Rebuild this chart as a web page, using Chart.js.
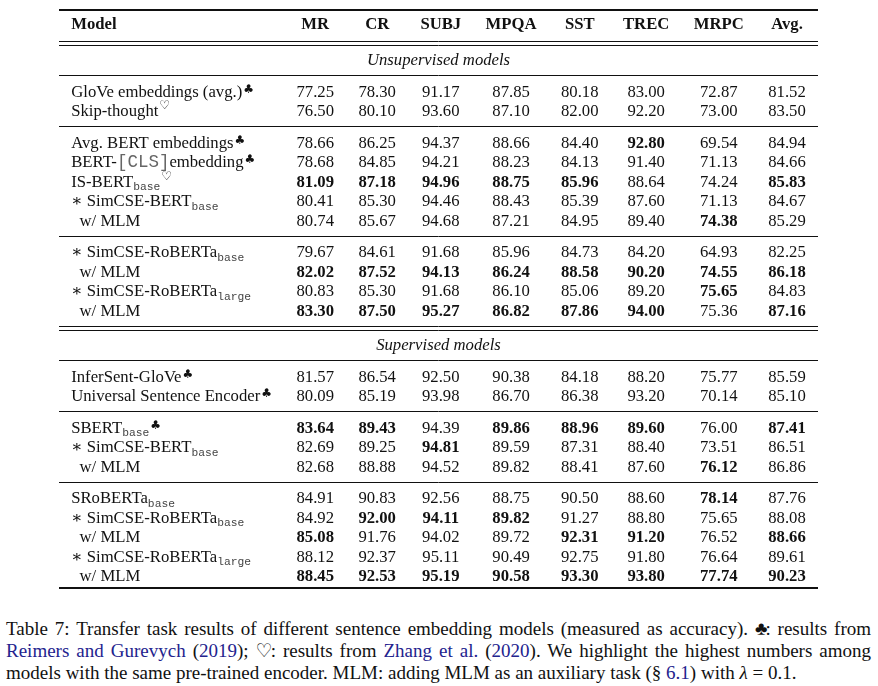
<!DOCTYPE html>
<html>
<head>
<meta charset="utf-8">
<script src="https://cdn.jsdelivr.net/npm/chart.js@4.4.1/dist/chart.umd.min.js"></script>
<style>
  body { margin: 0; background: #fff; width: 878px; height: 686px; overflow: hidden; position: relative; }
  #wrap { position: absolute; left: 0; top: 0; width: 878px; height: 600px; }
  #cap { position: absolute; left: 6px; top: 618px; width: 865px; color: #111;
         font: 19px "Liberation Serif", "Times New Roman", "DejaVu Serif", serif; line-height: 22px; }
  #cap div { white-space: nowrap; }
  #cap a { color: #23238e; text-decoration: none; }
  #cap .sym { font-size: 19px; margin-right: -2px; }
</style>
</head>
<body>
<div id="wrap"><canvas id="tbl" width="878" height="600"></canvas></div>
<div id="cap">
  <div class="j"><span>Table 7: Transfer task results of different sentence embedding models (measured as accuracy). <span class="sym">♣</span>: results from</span></div>
  <div class="j"><span><a>Reimers and Gurevych</a> (<a>2019</a>); <span class="sym">♡</span>: results from <a>Zhang et al.</a> (<a>2020</a>). We highlight the highest numbers among</span></div>
  <div><span>models with the same pre-trained encoder. MLM: adding MLM as an auxiliary task (§ <a>6.1</a>) with <i>λ</i> = 0.1.</span></div>
</div>
<script>
const columns = ['MR', 'CR', 'SUBJ', 'MPQA', 'SST', 'TREC', 'MRPC', 'Avg.'];
const sections = ['Unsupervised models', 'Supervised models'];
const groupsPerSection = [3, 3];
const groupSizes = [2, 5, 4, 2, 3, 5];

// `x` = typewriter, _x = subscript, ^x = superscript mark
const models = [
  'GloVe embeddings (avg.)^♣',
  'Skip-thought^♡',
  'Avg. BERT embeddings^♣',
  'BERT-`[CLS]`embedding^♣',
  'IS-BERT_base^♡',
  '∗ SimCSE-BERT_base',
  '  w/ MLM',
  '∗ SimCSE-RoBERTa_base',
  '  w/ MLM',
  '∗ SimCSE-RoBERTa_large',
  '  w/ MLM',
  'InferSent-GloVe^♣',
  'Universal Sentence Encoder^♣',
  'SBERT_base^♣',
  '∗ SimCSE-BERT_base',
  '  w/ MLM',
  'SRoBERTa_base',
  '∗ SimCSE-RoBERTa_base',
  '  w/ MLM',
  '∗ SimCSE-RoBERTa_large',
  '  w/ MLM'
];

const mr   = [77.25, 76.50, 78.66, 78.68, 81.09, 80.41, 80.74, 79.67, 82.02, 80.83, 83.30, 81.57, 80.09, 83.64, 82.69, 82.68, 84.91, 84.92, 85.08, 88.12, 88.45];
const cr   = [78.30, 80.10, 86.25, 84.85, 87.18, 85.30, 85.67, 84.61, 87.52, 85.30, 87.50, 86.54, 85.19, 89.43, 89.25, 88.88, 90.83, 92.00, 91.76, 92.37, 92.53];
const subj = [91.17, 93.60, 94.37, 94.21, 94.96, 94.46, 94.68, 91.68, 94.13, 91.68, 95.27, 92.50, 93.98, 94.39, 94.81, 94.52, 92.56, 94.11, 94.02, 95.11, 95.19];
const mpqa = [87.85, 87.10, 88.66, 88.23, 88.75, 88.43, 87.21, 85.96, 86.24, 86.10, 86.82, 90.38, 86.70, 89.86, 89.59, 89.82, 88.75, 89.82, 89.72, 90.49, 90.58];
const sst  = [80.18, 82.00, 84.40, 84.13, 85.96, 85.39, 84.95, 84.73, 88.58, 85.06, 87.86, 84.18, 86.38, 88.96, 87.31, 88.41, 90.50, 91.27, 92.31, 92.75, 93.30];
const trec = [83.00, 92.20, 92.80, 91.40, 88.64, 87.60, 89.40, 84.20, 90.20, 89.20, 94.00, 88.20, 93.20, 89.60, 88.40, 87.60, 88.60, 88.80, 91.20, 91.80, 93.80];
const mrpc = [72.87, 73.00, 69.54, 71.13, 74.24, 71.13, 74.38, 64.93, 74.55, 75.65, 75.36, 75.77, 70.14, 76.00, 73.51, 76.12, 78.14, 75.65, 76.52, 76.64, 77.74];
const avg  = [81.52, 83.50, 84.94, 84.66, 85.83, 84.67, 85.29, 82.25, 86.18, 84.83, 87.16, 85.59, 85.10, 87.41, 86.51, 86.86, 87.76, 88.08, 88.66, 89.61, 90.23];
const series = [mr, cr, subj, mpqa, sst, trec, mrpc, avg];

// highlighted (bold) cells, per row
const best = [
  [], [],
  ['TREC'], [], ['MR', 'CR', 'SUBJ', 'MPQA', 'SST', 'Avg.'], [], ['MRPC'],
  [], ['MR', 'CR', 'SUBJ', 'MPQA', 'SST', 'TREC', 'MRPC', 'Avg.'], ['MRPC'], ['MR', 'CR', 'SUBJ', 'MPQA', 'SST', 'TREC', 'Avg.'],
  [], [],
  ['MR', 'CR', 'MPQA', 'SST', 'TREC', 'Avg.'], ['SUBJ'], ['MRPC'],
  ['MRPC'], ['CR', 'SUBJ', 'MPQA'], ['MR', 'SST', 'TREC', 'Avg.'], [], ['MR', 'CR', 'SUBJ', 'MPQA', 'SST', 'TREC', 'MRPC', 'Avg.']
];

// ---- fonts / layout ----
const FS = 16.7;
const SERIF = '"Liberation Serif", "Times New Roman", "DejaVu Serif", serif';
const F_REG = `${FS}px ${SERIF}`;
const F_BOLD = `bold ${FS}px ${SERIF}`;
const F_ITAL = `italic ${FS}px ${SERIF}`;
const F_MONO = `17.5px "Liberation Mono", "DejaVu Sans Mono", monospace`;
const F_SUB = `11.3px "Liberation Mono", "DejaVu Sans Mono", monospace`;
const F_SUP = `12px "DejaVu Serif", serif`;
const BASE = 5.6;           // baseline below row centre
const TABLE_W = 759;
const TABLE_H = 600;
const ROW = 19.5;

function richText(ctx, s, x, yb, draw) {
  const parts = s.split(/(`[^`]*`|_[a-z]+|\^.)/).filter(Boolean);
  let cx = x;
  for (const p of parts) {
    let font = F_REG, txt = p, dy = 0, color = '#111';
    if (p[0] === '`') { font = F_MONO; txt = p.slice(1, -1); color = '#666'; }
    else if (p[0] === '_') { font = F_SUB; txt = p.slice(1); dy = 3.5; color = '#444'; }
    else if (p[0] === '^') { font = F_SUP; txt = p.slice(1); dy = txt === '♡' ? -7 : -4; cx += 1; }
    ctx.font = font;
    if (draw) { ctx.fillStyle = color; ctx.fillText(txt, cx, yb + dy); }
    cx += ctx.measureText(txt).width;
  }
  return cx - x;
}

// column widths measured like a tabular, spread to the table width
const mctx = document.createElement('canvas').getContext('2d');
mctx.font = F_BOLD;
let modelW = mctx.measureText('Model').width;
models.forEach(m => { modelW = Math.max(modelW, richText(mctx, m, 0, 0, false)); });
const colW = columns.map((c, i) => {
  mctx.font = F_BOLD;
  let w = mctx.measureText(c).width;
  series[i].forEach(v => { w = Math.max(w, mctx.measureText(v.toFixed(2)).width); });
  return w;
});
const sep = (TABLE_W - modelW - colW.reduce((a, b) => a + b, 0)) / (2 * (columns.length + 1));
const modelX = sep;
let cursor = modelW + 2 * sep;
const colX = colW.map(w => { const c = cursor + sep + w / 2; cursor += w + 2 * sep; return c; });

// vertical layout: rows, section titles and rules
const rules = [];
const titleY = [];
const rowY = [];
let yy = 10;
rules.push({ y: yy, w: 1.8 });
const headerY = yy + 13.5;
yy = headerY + 17;
rules.push({ y: yy, w: 1 }); yy += 4; rules.push({ y: yy, w: 1 });
let g = 0;
sections.forEach((s, si) => {
  yy += 14.5; titleY.push(yy);
  yy += 16; rules.push({ y: yy, w: 1 });
  for (let k = 0; k < groupsPerSection[si]; k++, g++) {
    yy += 16;
    for (let r = 0; r < groupSizes[g]; r++) { if (r) yy += ROW; rowY.push(yy); }
    const lastGroup = k === groupsPerSection[si] - 1;
    if (!lastGroup) { yy += 15.5; rules.push({ y: yy, w: 1 }); }
    else if (si < sections.length - 1) { yy += 15.5; rules.push({ y: yy, w: 1 }); yy += 4; rules.push({ y: yy, w: 1 }); }
    else { yy += 12.5; rules.push({ y: yy, w: 1.8 }); }
  }
});

const tablePlugin = {
  id: 'tableText',
  afterDatasetsDraw(chart) {
    const { ctx, scales: { x, y } } = chart;
    const x0 = x.getPixelForValue(0), x1 = x.getPixelForValue(TABLE_W);
    ctx.save();
    ctx.strokeStyle = '#111';
    rules.forEach(r => {
      const py = r.w < 1.5 ? Math.round(y.getPixelForValue(r.y)) + 0.5 : y.getPixelForValue(r.y);
      ctx.lineWidth = r.w;
      ctx.beginPath(); ctx.moveTo(x0, py); ctx.lineTo(x1, py); ctx.stroke();
    });
    ctx.fillStyle = '#111';
    ctx.textBaseline = 'alphabetic';
    // header
    const hy = y.getPixelForValue(headerY) + BASE;
    ctx.font = F_BOLD;
    ctx.textAlign = 'left';
    ctx.fillText('Model', x.getPixelForValue(modelX), hy);
    ctx.textAlign = 'center';
    columns.forEach((c, i) => ctx.fillText(c, x.getPixelForValue(colX[i]), hy));
    // section titles
    ctx.font = F_ITAL;
    sections.forEach((s, i) => ctx.fillText(s, x.getPixelForValue(TABLE_W / 2), y.getPixelForValue(titleY[i]) + BASE));
    // cells
    chart.data.datasets.forEach((ds, di) => {
      const meta = chart.getDatasetMeta(di);
      meta.data.forEach((pt, j) => {
        if (ds.kind === 'model') {
          ctx.textAlign = 'left';
          richText(ctx, models[j], pt.x, pt.y + BASE, true);
        } else {
          ctx.textAlign = 'center';
          ctx.fillStyle = '#111';
          ctx.font = best[j].includes(ds.label) ? F_BOLD : F_REG;
          ctx.fillText(series[ds.col][j].toFixed(2), pt.x, pt.y + BASE);
        }
      });
    });
    ctx.restore();
  }
};

const datasets = [{
  label: 'Model', kind: 'model',
  data: models.map((m, j) => ({ x: modelX, y: rowY[j] }))
}].concat(columns.map((c, i) => ({
  label: c, kind: 'value', col: i,
  data: series[i].map((v, j) => ({ x: colX[i], y: rowY[j] }))
})));

new Chart(document.getElementById('tbl'), {
  type: 'scatter',
  data: { datasets: datasets },
  options: {
    responsive: false,
    animation: false,
    events: [],
    elements: { point: { radius: 0, hoverRadius: 0 } },
    layout: { padding: { left: 59, right: 878 - 59 - TABLE_W, top: 0, bottom: 0 } },
    scales: {
      x: { type: 'linear', min: 0, max: TABLE_W, display: false },
      y: { type: 'linear', min: 0, max: TABLE_H, reverse: true, display: false }
    },
    plugins: { legend: { display: false }, tooltip: { enabled: false } }
  },
  plugins: [tablePlugin]
});

// justify the first two caption lines to the full width
const CAP_W = 865;
document.querySelectorAll('#cap .j').forEach(line => {
  const span = line.firstElementChild;
  const free = CAP_W - span.getBoundingClientRect().width;
  const gaps = (span.textContent.match(/ /g) || []).length;
  if (gaps) line.style.wordSpacing = (free / gaps) + 'px';
});
</script>
</body>
</html>
